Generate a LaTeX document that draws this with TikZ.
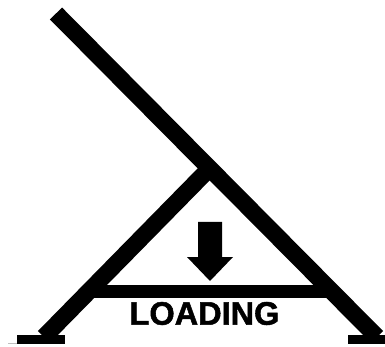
\documentclass[tikz,border=0pt]{standalone}
\usepackage{fontspec}
\setmainfont{Liberation Sans}
\newfontfamily\heavyfont[FakeBold=1.6]{Liberation Sans Bold}
\tikzset{
  member/.style={line width=17pt,draw=black,line cap=butt},
  foot/.style={fill=black,draw=none},
  tag/.style={inner sep=0pt,font=\heavyfont\fontsize{32.5}{33}\selectfont,text=black}
}
\begin{document}
\begin{tikzpicture}[x=1pt,y=-1pt]
\useasboundingbox (0,0) rectangle (385,347);
\clip (0,0) rectangle (385,347);
\coordinate (top) at (56,13.5);
\coordinate (apex) at (208,170);
\coordinate (rfoot) at (377,337);
\coordinate (lfoot) at (44,337);
\coordinate (tl) at (90,291.5);
\coordinate (tr) at (330,291.5);
\draw[member] (top) -- (rfoot);
\draw[member] (apex) -- (lfoot);
\draw[line width=13pt] (tl) -- (tr);
\fill[foot] (17,335) rectangle (65,344);
\fill[foot] (348,335) rectangle (385,344);
\fill[foot] (198,222) -- (222,222) -- (222,257) -- (233,257) -- (210,281) -- (187,257) -- (198,257) -- cycle;
\node[tag] (load) at (204.5,313.5) {LOADING};
\draw[black!25,line width=0.8pt] (8,343) -- (17,343);
\end{tikzpicture}
\end{document}
